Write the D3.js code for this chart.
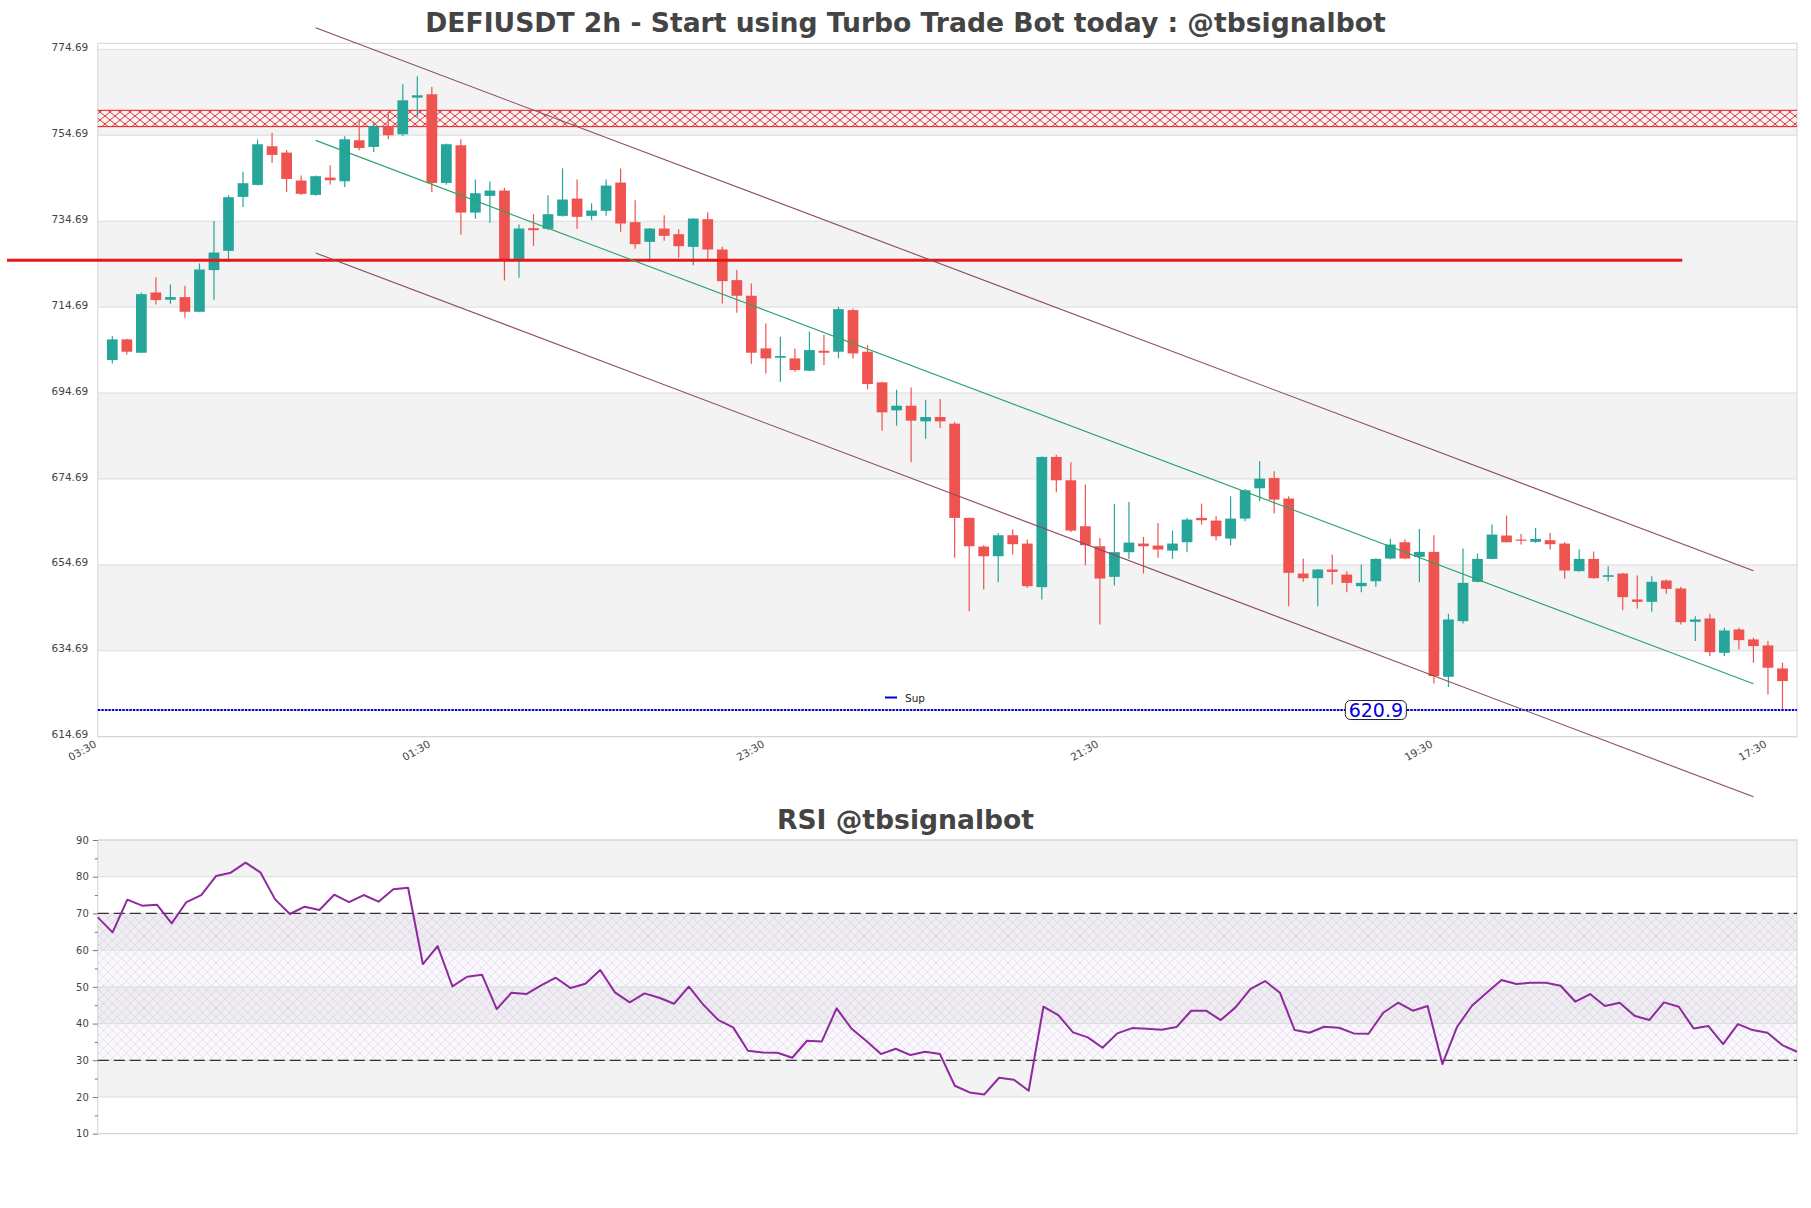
<!DOCTYPE html>
<html><head><meta charset="utf-8">
<script src="https://cdn.jsdelivr.net/npm/d3@7/dist/d3.min.js"></script>
<style>body{margin:0;background:#fff;} text{font-family:"DejaVu Sans",sans-serif;}</style>
</head><body><svg id="c" width="1811" height="1208" xmlns="http://www.w3.org/2000/svg"></svg>
<script>
// ---------------- DATA ----------------
const title = "DEFIUSDT 2h - Start using Turbo Trade Bot today : @tbsignalbot";
const rsiTitle = "RSI @tbsignalbot";
const opens = [702.36,707.17,704.07,718.1,716.4,717.02,713.6,723.3,727.79,740.35,743.14,752.13,750.66,744.15,740.81,744.84,743.99,753.53,751.98,756.78,754.92,763.45,764.23,743.6,752.36,736.7,740.58,741.82,725.62,733.06,732.91,735.93,739.96,735.93,737.1,743.68,734.46,729.88,732.98,731.67,728.72,735.15,728.1,720.97,717.33,705.08,702.9,702.75,699.88,704.53,704.3,713.99,704.3,697.17,690.66,691.74,688.1,689.11,687.56,665.62,658.95,656.7,661.59,659.65,649.5,679.81,674.38,663.68,659.03,651.9,657.64,659.65,659.19,658.0,659.96,665.62,665.0,660.81,665.46,672.52,674.92,670.12,652.67,651.59,653.6,652.44,649.73,650.89,656.16,659.96,656.55,657.71,628.64,641.59,650.74,656.08,661.51,660.58,660.04,660.43,659.65,653.22,656.08,651.9,652.67,646.63,646.08,651.05,649.19,641.43,642.21,634.22,639.65,637.33,635.93,630.58];
const highs = [707.95,707.3,718.1,721.67,719.96,719.65,724.85,734.69,740.74,746.2,753.68,755.3,751.28,745.31,745.3,747.71,754.46,758.41,757.87,760.19,766.55,768.41,765.93,752.8,753.76,744.38,743.91,742.44,733.91,736.32,740.74,747.0,744.38,738.88,744.38,746.94,739.57,733.1,736.08,732.83,735.4,736.78,728.72,723.3,720.2,710.89,707.8,705.08,708.95,708.18,714.77,714.38,705.85,697.3,695.47,696.0,693.14,693.3,687.95,665.7,659.26,662.13,662.91,660.58,679.9,680.35,678.57,673.37,660.97,668.88,669.34,661.2,664.46,662.67,665.62,668.95,666.01,670.66,672.36,678.8,676.47,670.66,656.16,653.7,657.09,653.22,654.77,656.2,660.74,660.58,663.06,661.59,643.29,658.49,657.33,664.07,666.16,661.9,663.29,662.13,659.96,658.26,657.79,654.38,652.8,652.21,652.05,651.28,649.57,642.75,643.29,640.04,640.04,637.71,636.94,631.9];
const lows = [701.59,703.68,704.0,715.31,715.46,712.2,713.5,716.4,725.2,738.02,743.0,748.26,741.51,740.81,740.6,743.22,742.67,751.2,750.81,753.76,754.46,758.95,741.5,743.2,731.6,735.23,734.3,720.89,721.5,728.95,732.6,735.77,732.9,734.92,735.93,732.21,728.26,725.23,730.12,726.16,724.46,725.77,715.54,713.37,701.5,699.26,697.3,699.65,699.8,701.2,702.75,702.75,695.56,685.93,687.09,678.57,684.07,686.55,656.32,643.91,648.95,650.66,657.09,649.34,646.63,671.59,662.36,654.61,640.81,649.88,656.08,652.68,656.32,656.08,657.64,664.07,660.43,659.26,664.85,669.5,666.63,645.08,650.74,645.08,650.12,648.33,648.33,649.57,656.0,656.0,650.66,627.09,626.24,641.05,650.6,656.0,659.9,659.42,659.8,658.26,651.51,653.1,651.5,650.89,644.15,644.53,643.76,647.95,640.81,636.94,633.45,633.45,634.99,631.9,624.53,621.05];
const closes = [707.17,704.3,717.71,716.32,717.02,713.6,723.45,727.4,740.27,743.53,752.6,750.12,744.53,741.05,745.16,744.22,753.76,751.74,756.78,754.69,762.83,764.0,743.6,752.6,736.7,741.2,741.82,725.62,732.98,732.6,736.32,739.73,735.7,737.17,742.98,734.15,729.34,732.98,731.28,728.88,735.3,728.1,720.74,717.33,704.07,702.75,703.3,700.04,704.69,704.07,714.22,703.91,696.78,690.19,691.74,688.26,689.11,688.1,665.62,659.03,656.7,661.59,659.5,649.73,679.81,674.38,662.67,659.26,651.51,657.64,659.88,659.03,658.26,659.65,665.23,665.08,661.36,665.46,672.05,674.77,669.88,652.83,651.59,653.6,653.06,650.5,650.5,656.08,659.42,656.16,657.71,628.8,641.98,650.5,656.08,661.74,659.96,660.43,660.74,659.5,653.37,656.08,651.59,652.29,647.17,646.08,650.74,649.11,641.36,641.98,634.38,639.42,637.17,635.78,630.73,627.63];
const rsiValues = [68.93,64.84,73.74,72.11,72.38,67.29,73.1,75.01,80.19,81.1,
83.82,81.19,73.83,69.84,71.83,70.93,75.1,73.1,75.01,73.2,
76.56,77.01,56.21,61.12,50.13,52.76,53.31,43.95,48.4,48.04,
50.4,52.49,49.67,50.85,54.58,48.5,45.77,48.22,47.04,45.4,
50.04,45.04,40.95,38.96,32.6,32.15,32.05,30.69,35.32,35.14,
44.13,38.68,35.32,31.69,33.14,31.42,32.33,31.69,23.06,21.24,
20.7,25.24,24.69,21.7,44.59,42.32,37.59,36.23,33.42,37.32,
38.77,38.59,38.32,39.05,43.5,43.5,40.95,44.41,49.4,51.58,
48.4,38.23,37.5,39.14,38.87,37.32,37.23,42.95,45.68,43.5,
44.77,28.97,39.14,44.86,48.4,51.85,50.76,51.13,51.13,50.31,
45.95,48.04,44.77,45.68,42.13,40.95,45.77,44.59,38.68,39.32,
34.41,39.86,38.23,37.5,34.14,32.32];
const priceTicks = [614.69,634.69,654.69,674.69,694.69,714.69,734.69,754.69,774.69];
const timeTickIndex = [-1,22,45,68,91,114];
const timeTickLabels = ["03:30","01:30","23:30","21:30","19:30","17:30"];
const rsiTicks = [10,20,30,40,50,60,70,80,90];
const rsiMinorTicks = [15,25,35,45,55,65,75,85];
const resistanceZone = [756.7, 760.5];
const redLevel = {value: 725.6, from: -7.25, to: 108.1};
const supportLevel = 620.9;
const supportLabelIndex = 87;
const channelUpper = [[14, 779.7],[113, 653.3]];
const channelMid = [[14, 753.5],[113, 627.0]];
const channelLower = [[14, 727.3],[113, 600.7]];
const rsiLevels = [70, 30];

// ---------------- LAYOUT ----------------
const W = 1811, H = 1208;
const L = 97.8, R = 1797;
const mainTop = 43.3, mainBot = 736.7;
const rsiTop = 840, rsiBot = 1133.7;
const GREEN = "#26a69a", RED = "#ef5350", BAND = "#f3f3f3", GRID = "#dcdcdc", TXT = "#444";

const svg = d3.select("#c");
const defs = svg.append("defs");

const hp = defs.append("pattern").attr("id","redhatch").attr("patternUnits","userSpaceOnUse")
  .attr("width",10).attr("height",8);
hp.append("path").attr("d","M0,0 L10,8 M10,0 L0,8").attr("stroke","#e41a1c").attr("stroke-width",0.9).attr("fill","none");
const rp = defs.append("pattern").attr("id","rsihatch").attr("patternUnits","userSpaceOnUse")
  .attr("width",9).attr("height",9);
rp.append("rect").attr("width",9).attr("height",9).attr("fill","rgba(190,170,215,0.08)");
rp.append("path").attr("d","M0,0 L9,9 M9,0 L0,9").attr("stroke","rgba(150,130,185,0.28)").attr("stroke-width",0.7).attr("fill","none");

const n = opens.length;
const candles = opens.map((o,i)=>({i, o, h:highs[i], l:lows[i], c:closes[i]}));

const x = d3.scaleLinear().domain([-1, n]).range([L, R]);
const y = d3.scaleLinear().domain([614.69, 776.1]).range([mainBot, mainTop]);
const xr = d3.scaleLinear().domain([0, rsiValues.length-1]).range([L, R]);
const yr = d3.scaleLinear().domain([10, 90]).range([rsiBot, rsiTop]);

// ---------- main panel ----------
const g = svg.append("g");
for (let k=0;k<priceTicks.length-1;k++){
  if (k%2===1) g.append("rect").attr("x",L).attr("width",R-L)
    .attr("y",y(priceTicks[k+1])).attr("height",y(priceTicks[k])-y(priceTicks[k+1])).attr("fill",BAND);
}
g.selectAll(".gl").data(priceTicks).enter().append("line")
  .attr("x1",L).attr("x2",R).attr("y1",d=>y(d)).attr("y2",d=>y(d)).attr("stroke",GRID).attr("stroke-width",1);
g.append("rect").attr("x",L).attr("y",mainTop).attr("width",R-L).attr("height",mainBot-mainTop)
  .attr("fill","none").attr("stroke","#d4d4d4").attr("stroke-width",1);

g.append("rect").attr("x",L).attr("width",R-L).attr("y",y(resistanceZone[1]))
  .attr("height",y(resistanceZone[0])-y(resistanceZone[1])).attr("fill","url(#redhatch)");
g.selectAll(".zl").data(resistanceZone).enter().append("line")
  .attr("x1",L).attr("x2",R).attr("y1",d=>y(d)).attr("y2",d=>y(d)).attr("stroke","#e41a1c").attr("stroke-width",1);

g.append("line").attr("x1",L).attr("x2",R).attr("y1",y(supportLevel)).attr("y2",y(supportLevel))
  .attr("stroke","#0000cc").attr("stroke-width",2.2).attr("stroke-dasharray","2.5,1");

const bw = (x(1)-x(0))*0.74;
const cg = g.append("g");
cg.selectAll(".wick").data(candles).enter().append("line")
  .attr("x1",d=>x(d.i)).attr("x2",d=>x(d.i)).attr("y1",d=>y(d.h)).attr("y2",d=>y(d.l))
  .attr("stroke",d=>d.c>=d.o?GREEN:RED).attr("stroke-width",1.2);
cg.selectAll(".body").data(candles).enter().append("rect")
  .attr("x",d=>x(d.i)-bw/2).attr("width",bw)
  .attr("y",d=>y(Math.max(d.o,d.c))).attr("height",d=>Math.max(1.2, Math.abs(y(d.o)-y(d.c))))
  .attr("fill",d=>d.c>=d.o?GREEN:RED);

g.append("line").attr("x1",x(redLevel.from)).attr("x2",x(redLevel.to))
  .attr("y1",y(redLevel.value)).attr("y2",y(redLevel.value)).attr("stroke","#e8161b").attr("stroke-width",3);

const ln = d3.line().x(d=>x(d[0])).y(d=>y(d[1]));
g.append("path").attr("d",ln(channelUpper)).attr("stroke","#8c4a5e").attr("stroke-width",1.1).attr("fill","none");
g.append("path").attr("d",ln(channelLower)).attr("stroke","#8c4a5e").attr("stroke-width",1.1).attr("fill","none");
g.append("path").attr("d",ln(channelMid)).attr("stroke","#2ea36a").attr("stroke-width",1.1).attr("fill","none");

const sx = x(supportLabelIndex), sy = y(supportLevel);
g.append("rect").attr("x",sx-30.5).attr("y",sy-9.5).attr("width",61).attr("height",19).attr("rx",5)
  .attr("fill","#fff").attr("stroke","#222").attr("stroke-width",1);
g.append("text").attr("x",sx).attr("y",sy+7).attr("text-anchor","middle").attr("font-size",19)
  .attr("fill","#0000dd").text(supportLevel.toFixed(1));

g.append("line").attr("x1",885).attr("x2",897).attr("y1",697.5).attr("y2",697.5).attr("stroke","#0000cc").attr("stroke-width",2);
g.append("text").attr("x",905).attr("y",701.5).attr("font-size",10.5).attr("fill","#222").text("Sup");

const yAxis = d3.axisLeft(y).tickValues(priceTicks).tickSize(0).tickPadding(9.5).tickFormat(d=>d.toFixed(2));
const ya = g.append("g").attr("transform",`translate(${L},0)`).call(yAxis);
ya.select(".domain").remove();
ya.selectAll("text").attr("font-size",10.5).attr("fill",TXT).attr("font-family","DejaVu Sans").attr("dy","0.1em");

const xAxis = d3.axisBottom(x).tickValues(timeTickIndex).tickSize(0).tickFormat((d,i)=>timeTickLabels[i]);
const xa = g.append("g").attr("transform",`translate(0,${mainBot})`).call(xAxis);
xa.select(".domain").remove();
xa.selectAll("text").attr("font-size",10.5).attr("fill",TXT).attr("font-family","DejaVu Sans")
  .attr("text-anchor","end").attr("y",0).attr("dy",0)
  .attr("transform","translate(-1,9.5) rotate(-30)");

svg.append("text").attr("x",W/2).attr("y",31.5).attr("text-anchor","middle").attr("font-size",26.6)
  .attr("font-weight","bold").attr("fill",TXT).text(title);

// ---------- RSI panel ----------
const r = svg.append("g");
for (let v=10; v<90; v+=10){
  if (v%20===0) r.append("rect").attr("x",L).attr("width",R-L).attr("y",yr(v+10)).attr("height",yr(v)-yr(v+10)).attr("fill",BAND);
}
r.append("rect").attr("x",L).attr("width",R-L).attr("y",yr(70)).attr("height",yr(30)-yr(70)).attr("fill","url(#rsihatch)");
r.selectAll(".rg").data(rsiTicks).enter().append("line")
  .attr("x1",L).attr("x2",R).attr("y1",d=>yr(d)).attr("y2",d=>yr(d)).attr("stroke",GRID).attr("stroke-width",1);
r.append("rect").attr("x",L).attr("y",rsiTop).attr("width",R-L).attr("height",rsiBot-rsiTop)
  .attr("fill","none").attr("stroke","#d4d4d4").attr("stroke-width",1);
r.selectAll(".lv").data(rsiLevels).enter().append("line")
  .attr("x1",L).attr("x2",R).attr("y1",d=>yr(d)).attr("y2",d=>yr(d))
  .attr("stroke","#333").attr("stroke-width",1.3).attr("stroke-dasharray","11,5");
const rl = d3.line().x((d,i)=>xr(i)).y(d=>yr(d));
r.append("path").attr("d",rl(rsiValues)).attr("fill","none").attr("stroke","#8e2a9e").attr("stroke-width",2).attr("stroke-linejoin","round");

const ra = r.append("g").attr("transform",`translate(${L},0)`)
  .call(d3.axisLeft(yr).tickValues(rsiTicks).tickSize(5).tickPadding(4).tickFormat(d3.format("d")));
ra.select(".domain").remove();
ra.selectAll("line").attr("stroke","#777");
ra.selectAll("text").attr("font-size",10).attr("fill",TXT).attr("font-family","DejaVu Sans");
const rm = r.append("g").attr("transform",`translate(${L},0)`)
  .call(d3.axisLeft(yr).tickValues(rsiMinorTicks).tickSize(3).tickFormat(""));
rm.select(".domain").remove();
rm.selectAll("line").attr("stroke","#777");

svg.append("text").attr("x",W/2).attr("y",829).attr("text-anchor","middle").attr("font-size",26.6)
  .attr("font-weight","bold").attr("fill",TXT).text(rsiTitle);
</script></body></html>
